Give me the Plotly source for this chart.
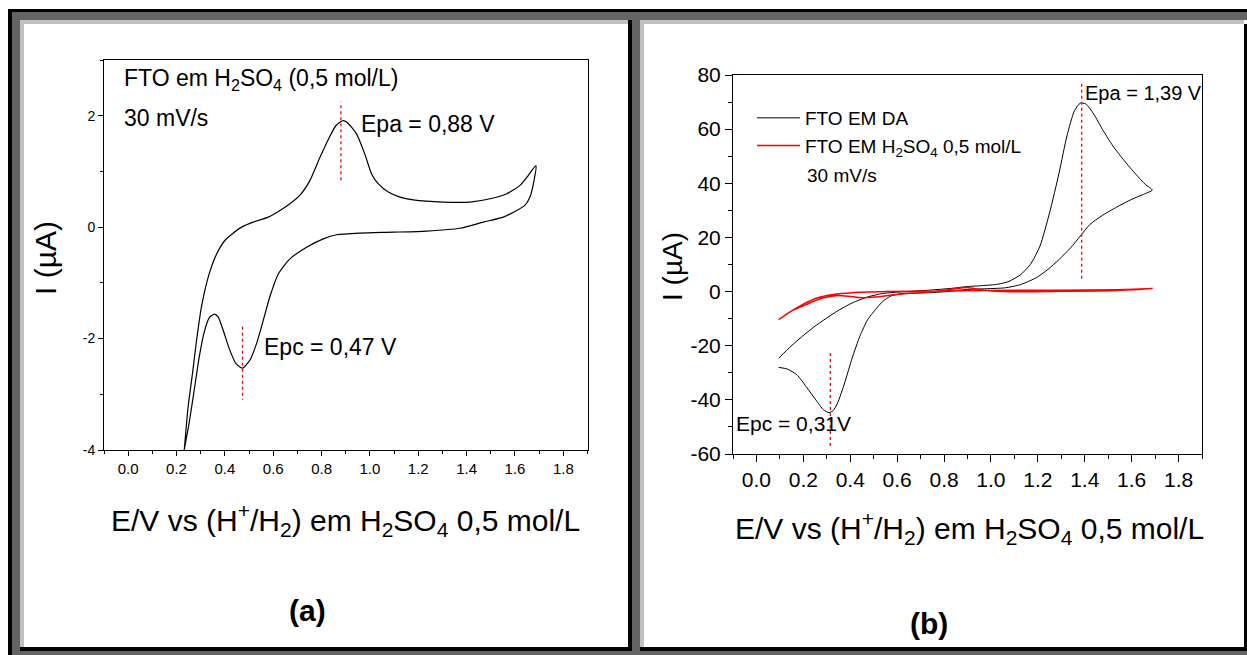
import plotly.graph_objects as go

# ---------------- data ----------------
# Panel (a): FTO in H2SO4 0.5 mol/L, one cycle (forward then reverse)
E_a = [0.222, 0.232, 0.248, 0.266, 0.283, 0.303, 0.335, 0.366, 0.400, 0.434, 0.469,
       0.517, 0.579, 0.628, 0.669, 0.710, 0.752, 0.793, 0.832, 0.859, 0.887, 0.906,
       0.945, 0.979, 1.007, 1.034, 1.076, 1.124, 1.179, 1.303, 1.414, 1.497, 1.566,
       1.621, 1.655, 1.683, 1.687,
       1.679, 1.662, 1.641, 1.607, 1.552, 1.469, 1.372, 1.234, 1.097, 0.959, 0.862,
       0.807, 0.738, 0.669, 0.621, 0.586, 0.559, 0.531, 0.503, 0.473, 0.446, 0.418,
       0.393, 0.372, 0.356, 0.335, 0.313, 0.294, 0.273, 0.252, 0.232, 0.222]
I_a = [-4.5, -4.0, -3.22, -2.63, -2.03, -1.43, -0.84, -0.48, -0.24, -0.11, 0.0,
       0.09, 0.18, 0.30, 0.42, 0.57, 0.84, 1.25, 1.61, 1.82, 1.91, 1.88,
       1.67, 1.31, 0.955, 0.78, 0.63, 0.54, 0.49, 0.45, 0.45, 0.51, 0.60,
       0.75, 0.93, 1.09, 1.10,
       0.84, 0.54, 0.39, 0.30, 0.18, 0.09, -0.02, -0.07, -0.09, -0.107, -0.137,
       -0.21, -0.36, -0.57, -0.84, -1.25, -1.67, -2.09, -2.39, -2.53, -2.45, -2.18,
       -1.85, -1.61, -1.56, -1.63, -1.91, -2.33, -2.93, -3.52, -4.0, -4.5]

# Panel (b): FTO in DA
E_da = [0.095, 0.147, 0.196, 0.245, 0.294, 0.343, 0.408, 0.474, 0.539, 0.637, 0.735,
        0.833, 0.899, 0.964, 1.029, 1.078, 1.127, 1.168, 1.209, 1.250, 1.291, 1.324,
        1.356, 1.381, 1.405, 1.438, 1.479, 1.520, 1.569, 1.618, 1.658, 1.688,
        1.650, 1.601, 1.536, 1.471, 1.422, 1.381, 1.340, 1.291, 1.242, 1.193, 1.127,
        1.062, 0.964, 0.899, 0.801, 0.703, 0.621, 0.572, 0.539, 0.507, 0.474, 0.441,
        0.408, 0.376, 0.346, 0.327, 0.310, 0.286, 0.253, 0.212, 0.172, 0.131, 0.095]
I_da = [-24.6, -20.2, -16.5, -13.1, -10.1, -7.3, -4.2, -2.0, -0.7, 0.0, 0.5,
        1.2, 1.85, 2.2, 2.7, 3.8, 6.3, 10.0, 16.8, 29.1, 44.0, 57.5,
        66.8, 69.6, 69.3, 65.6, 59.4, 53.8, 48.3, 43.3, 39.6, 37.5,
        35.9, 34.1, 31.2, 27.9, 24.8, 20.5, 16.2, 11.9, 8.1, 5.1, 2.6,
        1.4, 1.0, 0.8, -0.1, -0.5, -0.7, -1.7, -3.6, -6.7, -10.4, -16.5,
        -24.6, -33.8, -41.2, -44.0, -44.7, -43.7, -40.0, -35.1, -30.7, -28.6, -28.0]

# Panel (b): FTO in H2SO4 0.5 mol/L
E_h2so4 = [0.095, 0.147, 0.196, 0.261, 0.327, 0.408, 0.556, 0.801, 0.964, 1.291, 1.536, 1.688,
           1.536, 1.291, 1.046, 0.964, 0.899, 0.833, 0.719, 0.605, 0.507, 0.449, 0.392,
           0.335, 0.278, 0.212, 0.147, 0.095]
I_h2so4 = [-10.4, -7.3, -4.8, -2.3, -1.1, -0.4, 0.0, 0.25, 0.4, 0.5, 0.7, 1.1,
           0.4, 0.1, 0.0, 0.6, 1.5, 0.9, -0.25, -1.0, -2.0, -2.3, -1.7,
           -1.5, -2.5, -4.8, -7.3, -10.4]

# peak markers (E position, I from, I to)
peak_epa_a = [0.88, 0.84, 2.25]
peak_epc_a = [0.473, -1.79, -3.1]
peak_epa_b = [1.387, 4.7, 77.7]
peak_epc_b = [0.315, -22.7, -57.3]

# tick labels
x_tickvals = [0.0, 0.2, 0.4, 0.6, 0.8, 1.0, 1.2, 1.4, 1.6, 1.8]
x_ticktext = ["0.0", "0.2", "0.4", "0.6", "0.8", "1.0", "1.2", "1.4", "1.6", "1.8"]
ya_tickvals = [-4, -2, 0, 2]
ya_ticktext = ["-4", "-2", "0", "2"]
yb_tickvals = [-60, -40, -20, 0, 20, 40, 60, 80]
yb_ticktext = ["-60", "-40", "-20", "0", "20", "40", "60", "80"]

# ---------------- figure ----------------
W, H = 1247, 655
FONT = "Arial, Liberation Sans, sans-serif"


def px(x):
    return x / W


def py(y):
    return 1 - y / H


fig = go.Figure()

fig.add_trace(go.Scatter(x=E_a, y=I_a, mode="lines", xaxis="x", yaxis="y",
                         line=dict(color="black", width=1.2, shape="spline", smoothing=0.6),
                         showlegend=False))
fig.add_trace(go.Scatter(x=E_da, y=I_da, mode="lines", xaxis="x2", yaxis="y2",
                         name="FTO EM DA",
                         line=dict(color="black", width=1, shape="spline", smoothing=0.6)))
fig.add_trace(go.Scatter(x=E_h2so4, y=I_h2so4, mode="lines", xaxis="x2", yaxis="y2",
                         name="FTO EM H<sub>2</sub>SO<sub>4</sub> 0,5 mol/L",
                         line=dict(color="#ff0000", width=1.5, shape="spline", smoothing=0.6)))

axis_common = dict(showgrid=False, zeroline=False, showline=True, linecolor="black",
                   linewidth=1, mirror=True, ticks="outside", tickcolor="black",
                   tickwidth=1, automargin=False)

fig.update_layout(
    width=W, height=H, margin=dict(l=0, r=0, t=0, b=0, pad=0, autoexpand=False),
    paper_bgcolor="white", plot_bgcolor="white",
    font=dict(family=FONT, color="black"),
    xaxis=dict(domain=[px(104), px(587.5)], range=[-0.1, 1.9], anchor="y",
               tickmode="array", tickvals=x_tickvals, ticktext=x_ticktext, ticklen=5,
               tickfont=dict(color="black", family=FONT, size=15),
               minor=dict(tickmode="linear", tick0=0, dtick=0.1, ticks="outside", ticklen=3,
                          tickcolor="black"),
               **axis_common),
    yaxis=dict(domain=[py(450), py(60)], range=[-4, 3], anchor="x",
               tickmode="array", tickvals=ya_tickvals, ticktext=ya_ticktext, ticklen=5,
               tickfont=dict(color="black", family=FONT, size=14),
               minor=dict(tickmode="linear", tick0=0, dtick=1, ticks="outside", ticklen=3,
                          tickcolor="black"),
               **axis_common),
    xaxis2=dict(domain=[px(733), px(1202)], range=[-0.1, 1.9], anchor="y2",
                tickmode="array", tickvals=x_tickvals, ticktext=x_ticktext, ticklen=7,
                tickfont=dict(color="black", family=FONT, size=21),
                minor=dict(tickmode="linear", tick0=0, dtick=0.1, ticks="outside", ticklen=4,
                           tickcolor="black"),
                **axis_common),
    yaxis2=dict(domain=[py(454), py(75)], range=[-60, 80], anchor="x2",
                tickmode="array", tickvals=yb_tickvals, ticktext=yb_ticktext, ticklen=7,
                tickfont=dict(color="black", family=FONT, size=21),
                minor=dict(tickmode="linear", tick0=0, dtick=10, ticks="outside", ticklen=4,
                           tickcolor="black"),
                **axis_common),
    legend=dict(x=px(752), y=py(99), xanchor="left", yanchor="top",
                bgcolor="rgba(0,0,0,0)", borderwidth=0, itemwidth=43,
                font=dict(family=FONT, size=19, color="black"), tracegroupgap=0),
    hovermode=False,
)

# peak dotted lines
for pk, xr, yr in [(peak_epa_a, "x", "y"), (peak_epc_a, "x", "y"),
                   (peak_epa_b, "x2", "y2"), (peak_epc_b, "x2", "y2")]:
    fig.add_shape(type="line", xref=xr, yref=yr, x0=pk[0], x1=pk[0], y0=pk[1], y1=pk[2],
                  line=dict(color="#ff0000", width=1.3, dash="dot"))

# frame decoration (pixel rectangles)
BLACK, DARK, LIGHT = "#000000", "#646464", "#c0c0c0"
frame = [
    (8, 9, 1247, 12, BLACK), (12, 12, 1247, 20, DARK),
    (20, 20, 628, 24, LIGHT), (640, 20, 1244, 24, LIGHT),
    (8, 9, 12, 655, BLACK), (12, 12, 20, 655, DARK), (20, 20, 24, 647, LIGHT),
    (20, 647, 632, 651, BLACK), (640, 647, 1247, 651, BLACK), (12, 651, 1247, 655, DARK),
    (628, 20, 632, 651, BLACK), (632, 12, 640, 655, DARK), (640, 20, 644, 647, LIGHT),
    (1244, 24, 1247, 651, BLACK),
]
for x0, y0, x1, y1, c in frame:
    fig.add_shape(type="rect", xref="paper", yref="paper",
                  x0=px(x0), x1=px(x1), y0=py(y1), y1=py(y0),
                  fillcolor=c, line=dict(width=0), layer="above")


def note(text, x, y, size, xanchor="left", angle=0, bold=False):
    if bold:
        text = "<b>" + text + "</b>"
    fig.add_annotation(text=text, x=px(x), y=py(y), xref="paper", yref="paper",
                       xanchor=xanchor, yanchor="middle", showarrow=False,
                       textangle=angle, font=dict(family=FONT, size=size, color="black"))


# panel (a) texts
note("FTO em H<sub>2</sub>SO<sub>4</sub> (0,5 mol/L)", 122, 80, 23)
note("30 mV/s", 122, 118, 23)
note("Epa = 0,88 V", 359, 124, 23)
note("Epc = 0,47 V", 262, 347, 23)
note("I (µA)", 45, 258, 30, xanchor="center", angle=-90)
note("E/V vs (H<sup>+</sup>/H<sub>2</sub>) em H<sub>2</sub>SO<sub>4</sub> 0,5 mol/L", 345, 520, 30,
     xanchor="center")
note("(a)", 307, 610, 30, xanchor="center", bold=True)

# panel (b) texts
note("Epa = 1,39 V", 1083, 93, 20)
note("Epc = 0,31V", 734, 423, 21)
note("30 mV/s", 805, 175, 19)
note("I (µA)", 672, 267, 28, xanchor="center", angle=-90)
note("E/V vs (H<sup>+</sup>/H<sub>2</sub>) em H<sub>2</sub>SO<sub>4</sub> 0,5 mol/L", 969, 528, 30,
     xanchor="center")
note("(b)", 929, 623, 30, xanchor="center", bold=True)

fig.write_html(
    "out.html",
    config={"displayModeBar": False, "responsive": False},
    post_script=(
        "var d=document.getElementById('{plot_id}');"
        "d.style.position='fixed';d.style.left='0px';d.style.top='0px';"
        "document.body.style.margin='0';document.body.style.overflow='hidden';"
        "document.documentElement.style.overflow='hidden';"
    ),
)
